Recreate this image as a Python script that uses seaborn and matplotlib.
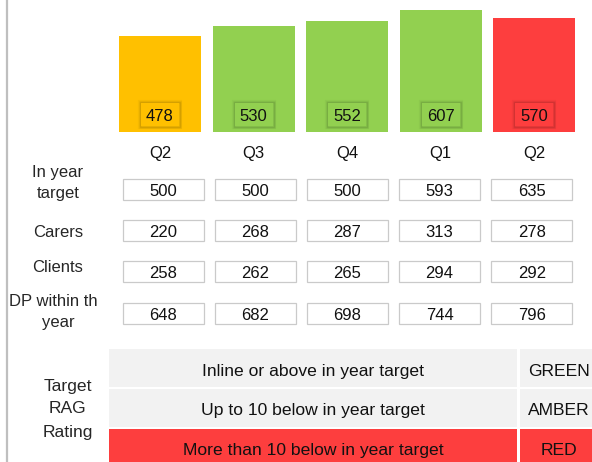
import numpy as np
import pandas as pd
import matplotlib
matplotlib.use("Agg")
import matplotlib.pyplot as plt
import matplotlib.colors as mcolors
import matplotlib.patheffects as pe
from matplotlib.patches import Rectangle
import seaborn as sns

# -----------------------------
# Data
# -----------------------------
periods = ['Q2', 'Q3', 'Q4', 'Q1', 'Q2']
dp_total = [478, 530, 552, 607, 570]
rag = ['AMBER', 'GREEN', 'GREEN', 'GREEN', 'RED']
in_year_target = [500, 500, 500, 593, 635]
carers = [220, 268, 287, 313, 278]
clients = [258, 262, 265, 294, 292]
dp_within_year = [648, 682, 698, 744, 796]

rag_colors = {'AMBER': '#FFC000', 'GREEN': '#92D050', 'RED': '#FD3E3E'}
rag_key = ['Inline or above in year target', 'Up to 10 below in year target',
           'More than 10 below in year target']
rag_key_names = ['GREEN', 'AMBER', 'RED']

df = pd.DataFrame({'slot': range(len(periods)), 'period': periods,
                   'total': dp_total, 'rag': rag})

# -----------------------------
# Figure / layout (pixel units)
# -----------------------------
sns.set_theme(style='white')
plt.rcParams['font.family'] = ['Liberation Sans', 'DejaVu Sans']

W, H = 592, 462
fig = plt.figure(figsize=(W / 100, H / 100), dpi=100)

bar_x0, bar_step = 160, 93.5
bar_base = 131.7
px_per_unit = 1 / 5.0

ax = fig.add_axes([0, 1 - bar_base / H, 1, bar_base / H])
sns.barplot(data=df, x='slot', y='total', hue='rag', palette=rag_colors,
            dodge=False, legend=False, width=82 / bar_step, linewidth=0,
            saturation=1, ax=ax)
ax.set_xlim(-bar_x0 / bar_step, (W - bar_x0) / bar_step)
ax.set_ylim(0, bar_base / px_per_unit)
ax.axis('off')

lay = fig.add_axes([0, 0, 1, 1], zorder=5)
lay.set_xlim(0, W)
lay.set_ylim(H, 0)
lay.axis('off')
lay.patch.set_alpha(0)

fs = 12
fs_big = 12.6

# left border line
lay.plot([7, 7], [0, H], color='#BFBFBF', lw=1.6, solid_capstyle='butt')

# value boxes inside bars + quarter labels
for i, (p, v, r) in enumerate(zip(periods, dp_total, rag)):
    cx = bar_x0 + bar_step * i
    col = rag_colors[r]
    dark = tuple(np.array(mcolors.to_rgb(col)) * 0.65)
    for k, a in [(3.0, 0.10), (1.8, 0.18), (0.9, 0.28)]:
        lay.add_patch(Rectangle((cx - 20, 102), 40, 25, facecolor='none',
                                edgecolor=dark + (a,), lw=k))
    lay.add_patch(Rectangle((cx - 19, 103), 38, 23, facecolor=col, lw=0))
    lay.text(cx, 120.7, str(v), ha='center', va='baseline', fontsize=fs,
             color='#111111')
    lay.text(cx, 157.8, p, ha='center', va='baseline', fontsize=fs,
             color='#111111')

# -----------------------------
# Value table
# -----------------------------
tab_x0, tab_step = 163, 92.2
rows = [in_year_target, carers, clients, dp_within_year]
row_tops = [179, 220, 261, 303]
row_base = [195.7, 237.3, 278.3, 320]
for vals, top, base in zip(rows, row_tops, row_base):
    for i, v in enumerate(vals):
        cx = tab_x0 + tab_step * i
        lay.add_patch(Rectangle((cx - 40.5, top), 81, 21, facecolor='white',
                                edgecolor='#CACACA', lw=0.9))
        lay.text(cx, base, str(v), ha='center', va='baseline', fontsize=fs,
                 color='#111111')

lab_x = 58
lay.text(lab_x, 177.5, 'In year', ha='center', va='baseline', fontsize=fs)
lay.text(lab_x, 198, 'target', ha='center', va='baseline', fontsize=fs)
lay.text(lab_x, 236.7, 'Carers', ha='center', va='baseline', fontsize=fs)
lay.text(lab_x, 271.7, 'Clients', ha='center', va='baseline', fontsize=fs)
t = lay.text(lab_x, 305.7, 'DP within the', ha='center', va='baseline',
             fontsize=fs)
clip = Rectangle((0, 285), 96.5, 30, transform=lay.transData)
t.set_clip_path(clip)
t.set_clip_on(True)
lay.text(lab_x, 326.5, 'year', ha='center', va='baseline', fontsize=fs)

# -----------------------------
# RAG key table
# -----------------------------
key_tops = [349, 389, 429]
key_base = [376, 415, 455]
key_fill = ['#F2F2F2', '#F2F2F2', '#FD3E3E']
for txt, name, top, base, fc in zip(rag_key, rag_key_names, key_tops,
                                    key_base, key_fill):
    lay.add_patch(Rectangle((109, top), 408, 38, facecolor=fc, lw=0))
    lay.add_patch(Rectangle((519.5, top), 90, 38, facecolor=fc, lw=0))
    lay.text(313, base, txt, ha='center', va='baseline', fontsize=fs_big,
             color='#111111')
    lay.text(559, base, name, ha='center', va='baseline', fontsize=fs_big,
             color='#111111')

lay.text(67.5, 391, 'Target', ha='center', va='baseline', fontsize=fs_big)
lay.text(67.5, 413, 'RAG', ha='center', va='baseline', fontsize=fs_big)
lay.text(67.5, 436.7, 'Rating', ha='center', va='baseline', fontsize=fs_big)

fig.savefig('out.png', dpi=100)
